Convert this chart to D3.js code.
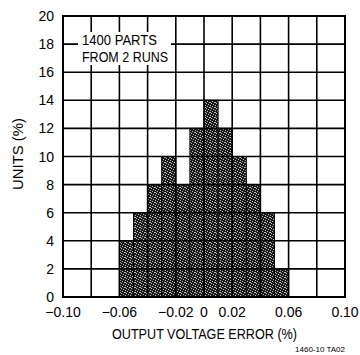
<!DOCTYPE html>
<html>
<head>
<meta charset="utf-8">
<script src="https://cdn.jsdelivr.net/npm/d3@7"></script>
<style>
  body { margin: 0; background: #fff; }
  text { font-family: "Liberation Sans Narrow", "Liberation Sans", Arial, sans-serif; fill: #000; }
</style>
</head>
<body>
<div class="canvas"></div>
<script>
// histogram bins (left edge, %) and share of units (%)
const binStart = [-0.06, -0.05, -0.04, -0.03, -0.02, -0.01, 0, 0.01, 0.02, 0.03, 0.04, 0.05];
const units = [4, 6, 8, 10, 8, 12, 14, 12, 10, 8, 6, 2];
const binWidth = 0.01;
const xTicks = [-0.10, -0.06, -0.02, 0, 0.02, 0.06, 0.10];
const xTickLabels = ['\u22120.10', '\u22120.06', '\u22120.02', '0', '0.02', '0.06', '0.10'];
const yTicks = [0, 2, 4, 6, 8, 10, 12, 14, 16, 18, 20];

const dims = { left: 63, right: 345, top: 16, bottom: 297 };

const svg = d3.select('.canvas')
  .append('svg')
  .attr('width', 360)
  .attr('height', 355);

const x = d3.scaleLinear().domain([-0.1, 0.1]).range([dims.left, dims.right]);
const y = d3.scaleLinear().domain([0, 20]).range([dims.bottom, dims.top]);

// stipple fill, like the scanned halftone
const defs = svg.append('defs');
const pat = defs.append('pattern')
  .attr('id', 'stipple')
  .attr('patternUnits', 'userSpaceOnUse')
  .attr('width', 5).attr('height', 5);
pat.append('rect').attr('width', 5).attr('height', 5).attr('fill', '#1a1a1a');
[[0, 0], [2, 1], [4, 2], [1, 3], [3, 4], [0, 2]].forEach(p => {
  pat.append('rect')
    .attr('x', p[0]).attr('y', p[1])
    .attr('width', 1).attr('height', 1)
    .attr('fill', '#bdbdbd');
});

const data = binStart.map((b, i) => ({ start: b, value: units[i] }));

// bars
svg.append('g')
  .selectAll('rect')
  .data(data)
  .enter()
  .append('rect')
    .attr('x', d => x(d.start))
    .attr('y', d => y(d.value))
    .attr('width', d => x(d.start + binWidth) - x(d.start))
    .attr('height', d => y(0) - y(d.value))
    .attr('fill', 'url(#stipple)')
    .attr('stroke', '#000')
    .attr('stroke-width', 1);

// grid
const grid = svg.append('g').attr('stroke', '#000').attr('stroke-width', 1.6);
grid.selectAll('.vx')
  .data(x.ticks(10))
  .enter().append('line')
    .attr('x1', d => x(d)).attr('x2', d => x(d))
    .attr('y1', dims.top).attr('y2', dims.bottom);
grid.selectAll('.hy')
  .data(yTicks)
  .enter().append('line')
    .attr('x1', dims.left).attr('x2', dims.right)
    .attr('y1', d => y(d)).attr('y2', d => y(d));

// frame
svg.append('rect')
  .attr('x', dims.left).attr('y', dims.top)
  .attr('width', dims.right - dims.left)
  .attr('height', dims.bottom - dims.top)
  .attr('fill', 'none')
  .attr('stroke', '#000')
  .attr('stroke-width', 2);

// note box
svg.append('rect')
  .attr('x', 78).attr('y', 32)
  .attr('width', 93).attr('height', 33)
  .attr('fill', '#fff');
const note = svg.append('text')
  .style('font-size', '14px');
note.append('tspan').attr('x', 82).attr('y', 45)
  .attr('textLength', 75).attr('lengthAdjust', 'spacingAndGlyphs')
  .text('1400 PARTS');
note.append('tspan').attr('x', 82).attr('y', 62)
  .attr('textLength', 86).attr('lengthAdjust', 'spacingAndGlyphs')
  .text('FROM 2 RUNS');

// y tick labels
svg.append('g')
  .selectAll('text')
  .data(yTicks)
  .enter().append('text')
    .attr('x', 54)
    .attr('y', d => y(d) + 5)
    .attr('text-anchor', 'end')
    .style('font-size', '14px')
    .text(d => d);

// x tick labels
svg.append('g')
  .selectAll('text')
  .data(xTicks)
  .enter().append('text')
    .attr('x', d => x(d))
    .attr('y', 317)
    .attr('text-anchor', 'middle')
    .style('font-size', '14px')
    .text((d, i) => xTickLabels[i]);

// axis titles
svg.append('text')
  .attr('x', 112).attr('y', 339)
  .attr('textLength', 185).attr('lengthAdjust', 'spacingAndGlyphs')
  .style('font-size', '14px')
  .text('OUTPUT VOLTAGE ERROR (%)');

svg.append('text')
  .attr('transform', `translate(23, 190) rotate(-90)`)
  .attr('textLength', 72).attr('lengthAdjust', 'spacingAndGlyphs')
  .style('font-size', '14px')
  .text('UNITS (%)');

svg.append('text')
  .attr('x', 345).attr('y', 352)
  .attr('text-anchor', 'end')
  .style('font-size', '8px')
  .text('1460-10 TA02');
</script>
</body>
</html>
